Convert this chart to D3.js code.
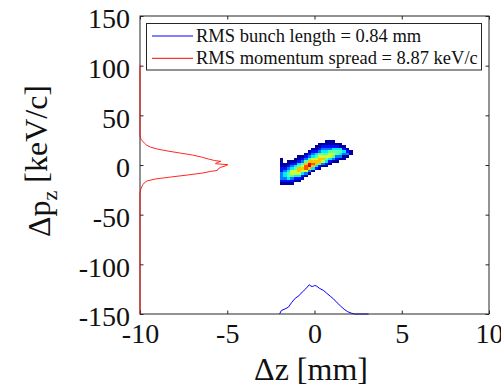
<!DOCTYPE html>
<html>
<head>
<meta charset="utf-8">
<script src="https://cdn.jsdelivr.net/npm/d3@7"></script>
<style>
  body { margin: 0; background: #fff; }
  svg { display: block; font-family: "Liberation Serif", "Times New Roman", serif; }
</style>
</head>
<body>
<svg id="chart"></svg>
<script>
const width = 501, height = 388
const margin = { top: 16, right: 12, bottom: 74, left: 140 }

// axis ticks
const xTicks = [-10, -5, 0, 5, 10]
const yTicks = [-150, -100, -50, 0, 50, 100, 150]

// legend entries
const legendLabels = ["RMS bunch length = 0.84 mm", "RMS momentum spread = 8.87 keV/c"]
const legendColors = ["#0000ff", "#ff0000"]

// longitudinal profile: dz [mm] vs normalised counts
const bunchZ = [-2.0, -1.9, -1.7, -1.5, -1.3, -1.1, -0.9, -0.7, -0.5, -0.3, -0.2, -0.1, 0.0, 0.1, 0.3, 0.5, 0.7, 0.9, 1.1, 1.3, 1.5, 1.7, 1.9, 2.1, 2.3, 3.1]
const bunchCounts = [0, 0.12, 0.17, 0.23, 0.40, 0.54, 0.62, 0.75, 0.86, 1.0, 0.95, 0.94, 0.97, 0.96, 0.87, 0.81, 0.71, 0.61, 0.51, 0.38, 0.27, 0.16, 0.08, 0.03, 0, 0]

// momentum profile: dp [keV/c] vs normalised counts
const momentumP = [100, 30, 28, 26, 24, 22, 20, 18, 16, 14, 12, 10, 8, 6, 4.5, 3.7, 2.5, 1.3, 0.3, -1, -2.3, -4, -5.5, -6.5, -8, -10, -12, -14, -16, -18, -20, -22, -24, -26, -28, -150]
const momentumCounts = [0, 0, 0.005, 0.01, 0.03, 0.05, 0.075, 0.12, 0.2, 0.32, 0.46, 0.6, 0.70, 0.78, 0.85, 0.92, 0.88, 0.86, 1.0, 0.97, 0.92, 0.89, 0.88, 0.80, 0.72, 0.55, 0.36, 0.18, 0.08, 0.05, 0.03, 0.02, 0.01, 0.005, 0, 0]

// phase space density (levels 0-9), bin centres
const densityZ = [-1.9, -1.7, -1.5, -1.3, -1.1, -0.9, -0.7, -0.5, -0.3, -0.1, 0.1, 0.3, 0.5, 0.7, 0.9, 1.1, 1.3, 1.5, 1.7, 1.9, 2.1]
const densityP = [23.75, 21.25, 18.75, 16.25, 13.75, 11.25, 8.75, 6.25, 3.75, 1.25, -1.25, -3.75, -6.25, -8.75, -11.25, -13.75, -16.25, -18.75]
const densityRows = [
  "000000000000011100000",
  "000000000001111111000",
  "000000000011222221100",
  "000000000112333444210",
  "000000001223445555421",
  "000000012345556654331",
  "000001123456666533110",
  "100011235667754321100",
  "101112357777642110000",
  "111224579875321000000",
  "112345689742110000000",
  "223457787421000000000",
  "234667663100000000000",
  "345666431000000000000",
  "345544210000000000000",
  "334322100000000000000",
  "222211000000000000000",
  "111100000000000000000"
]

const svg = d3.select('#chart').attr('width', width).attr('height', height)

const x = d3.scaleLinear().domain([-10, 10]).range([margin.left, width - margin.right])
const y = d3.scaleLinear().domain([-150, 150]).range([height - margin.bottom, margin.top])

const jet = d3.scaleLinear()
  .domain([0, 0.125, 0.375, 0.625, 0.875, 1])
  .range(["#000080", "#0000ff", "#00ffff", "#ffff00", "#ff0000", "#800000"])
const level = d3.scaleLinear().domain([1, 9]).range([0.03, 0.9])

// density cells
const cells = []
densityRows.forEach((row, j) => {
  row.split('').forEach((c, i) => {
    const v = +c
    if (v > 0) cells.push({ z: densityZ[i], p: densityP[j], v })
  })
})
const dz = densityZ[1] - densityZ[0], dp = densityP[0] - densityP[1]
svg.append('g').selectAll('rect')
  .data(cells)
  .join('rect')
  .attr('x', d => x(d.z - dz / 2))
  .attr('y', d => y(d.p + dp / 2))
  .attr('width', d => x(d.z + dz / 2) - x(d.z - dz / 2))
  .attr('height', d => y(d.p - dp / 2) - y(d.p + dp / 2))
  .attr('fill', d => jet(level(d.v)))
  .attr('shape-rendering', 'crispEdges')

// profiles
const bunchScale = d3.scaleLinear().domain([0, 1]).range([-150, -120.5])
const momScale = d3.scaleLinear().domain([0, 1]).range([-10, -4.97])

svg.append('path')
  .datum(bunchZ.map((z, i) => [z, bunchCounts[i]]))
  .attr('fill', 'none').attr('stroke', legendColors[0]).attr('stroke-width', 1)
  .attr('d', d3.line().x(d => x(d[0])).y(d => y(bunchScale(d[1]))))

// axes
const axisColor = '#262626'
const tick = 3.5
const fmt = d => String(d)
const gx = svg.append('g').attr('transform', `translate(0,${y(-150)})`)
  .call(d3.axisBottom(x).tickValues(xTicks).tickSize(-tick).tickPadding(9).tickFormat(fmt))
const gxTop = svg.append('g').attr('transform', `translate(0,${y(150)})`)
  .call(d3.axisTop(x).tickValues(xTicks).tickSize(-tick).tickFormat(''))
const gy = svg.append('g').attr('transform', `translate(${x(-10)},0)`)
  .call(d3.axisLeft(y).tickValues(yTicks).tickSize(-tick).tickPadding(10).tickFormat(fmt))
const gyRight = svg.append('g').attr('transform', `translate(${x(10)},0)`)
  .call(d3.axisRight(y).tickValues(yTicks).tickSize(-tick).tickFormat(''))

for (const g of [gx, gxTop, gy, gyRight]) {
  g.select('.domain').remove()
  g.selectAll('line').attr('stroke', axisColor)
  g.selectAll('text').attr('fill', '#111').attr('font-size', 28)
    .attr('font-family', '"Liberation Serif", "Times New Roman", serif')
}
gy.selectAll('text').attr('dy', '0.42em')

svg.append('rect')
  .attr('x', x(-10)).attr('y', y(150))
  .attr('width', x(10) - x(-10)).attr('height', y(-150) - y(150))
  .attr('fill', 'none').attr('stroke', axisColor).attr('stroke-width', 1)

svg.append('path')
  .datum(momentumP.map((p, i) => [p, momentumCounts[i]]))
  .attr('fill', 'none').attr('stroke', legendColors[1]).attr('stroke-width', 1)
  .attr('stroke-opacity', 0.85)
  .attr('d', d3.line().x(d => x(momScale(d[1]))).y(d => y(d[0])))

// axis labels
svg.append('text')
  .attr('x', 311).attr('y', 380)
  .attr('text-anchor', 'middle').attr('font-size', 32).attr('fill', '#111')
  .text('Δz [mm]')

const yl = svg.append('text')
  .attr('transform', 'translate(50,161) rotate(-90)')
  .attr('text-anchor', 'middle').attr('font-size', 32).attr('fill', '#111')
yl.append('tspan').text('Δp')
yl.append('tspan').attr('font-size', 22).attr('dy', '0.3em').text('z')
yl.append('tspan').attr('dy', '-0.3em').text(' [keV/c]')

// legend
const legend = svg.append('g')
legend.append('rect')
  .attr('x', 146.5).attr('y', 23.5).attr('width', 335).attr('height', 46.5)
  .attr('fill', '#fff').attr('stroke', axisColor).attr('stroke-width', 1)
legendLabels.forEach((label, i) => {
  const ly = 36 + i * 22.3
  legend.append('line')
    .attr('x1', 152).attr('x2', 193).attr('y1', ly).attr('y2', ly)
    .attr('stroke', legendColors[i]).attr('stroke-width', 1)
  legend.append('text')
    .attr('x', 196).attr('y', ly + 6)
    .attr('font-size', 18.5).attr('fill', '#111')
    .text(label)
})
</script>
</body>
</html>
